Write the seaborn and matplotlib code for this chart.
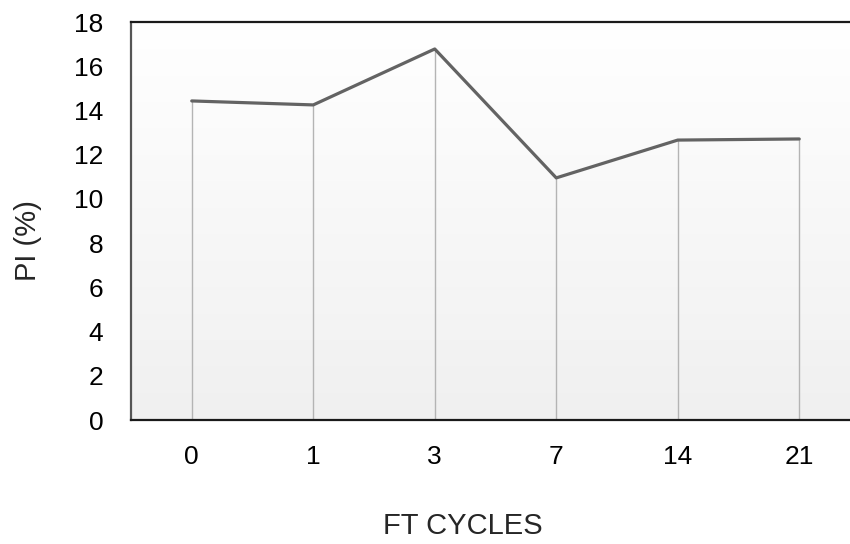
import numpy as np
import pandas as pd
import matplotlib
matplotlib.use("Agg")
import matplotlib.pyplot as plt
import seaborn as sns

# Plasticity index after freeze-thaw cycles
cycles = ["0", "1", "3", "7", "14", "21"]
pi_values = [14.43, 14.25, 16.78, 10.95, 12.66, 12.71]
y_ticks = [0, 2, 4, 6, 8, 10, 12, 14, 16, 18]

sns.set_theme(style="white")
plt.rcParams["font.family"] = ["Liberation Sans", "DejaVu Sans"]

df = pd.DataFrame({"cycles": cycles, "pi": pi_values})

W, H = 850, 544
fig = plt.figure(figsize=(W / 100, H / 100), dpi=100)
left, right, top, bottom = 131, 860, 22, 420
ax = fig.add_axes([left / W, (H - bottom) / H, (right - left) / W, (bottom - top) / H])

# soft vertical gradient behind the data
grad = np.linspace(0, 1, 256).reshape(-1, 1)
cmap = matplotlib.colors.LinearSegmentedColormap.from_list("bg", ["#f0f0f0", "#ffffff"])
ax.imshow(grad, cmap=cmap, aspect="auto", extent=[0, 1, 0, 1],
          transform=ax.transAxes, origin="lower", zorder=0)

pos = np.arange(len(cycles))
ax.vlines(pos, 0, pi_values, colors="#b4b4b4", linewidth=1.0, zorder=1)
sns.lineplot(data=df, x="cycles", y="pi", sort=False, color="#636363",
             linewidth=2.3, ax=ax, zorder=2)

ax.set_xlim(-0.5, len(cycles) - 0.5)
ax.set_ylim(0, 18)
ax.set_yticks(y_ticks)
ax.set_yticklabels([str(t) for t in y_ticks])
ax.tick_params(axis="both", labelsize=19, length=0, colors="#000000")
ax.tick_params(axis="y", pad=20)
ax.tick_params(axis="x", pad=18)

for side in ["top", "bottom"]:
    ax.spines[side].set_color("#1a1a1a")
    ax.spines[side].set_linewidth(1.6)
ax.spines["left"].set_color("#555555")
ax.spines["left"].set_linewidth(1.6)
ax.spines["right"].set_visible(False)

ax.set_xlabel("")
ax.set_ylabel("PI (%)", fontsize=21)
ax.yaxis.set_label_coords(-0.122, 0.452)
fig.text(463 / W, 1 - 526 / H, "FT CYCLES", fontsize=21, ha="center", va="center")

fig.savefig("out.png", dpi=100)
